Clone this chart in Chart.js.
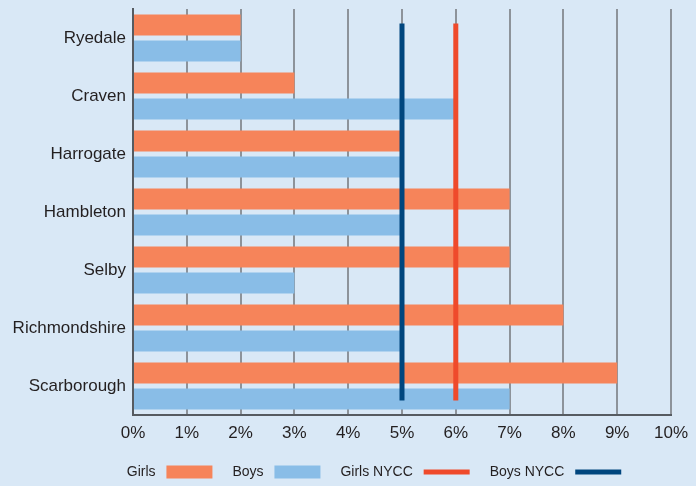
<!DOCTYPE html>
<html lang="en">
<head>
  <meta charset="UTF-8">
  <title>Girls and Boys by District</title>
  <script src="https://cdn.jsdelivr.net/npm/chart.js"></script>
  <style>
    body {
      margin: 0;
      padding: 0;
      background-color: #d9e8f6;
    }

    #wrap {
      width: 696px;
      height: 486px;
    }
  </style>
</head>
<body>
  <div id="wrap"><canvas id="districtChart"></canvas></div>

  <script>
    const districts = ["Ryedale", "Craven", "Harrogate", "Hambleton", "Selby", "Richmondshire", "Scarborough"];
    const girls = [2, 3, 5, 7, 7, 8, 9];
    const boys = [2, 6, 5, 5, 3, 5, 7];
    const girlsNycc = 6;
    const boysNycc = 5;
    const tickLabels = ["0%", "1%", "2%", "3%", "4%", "5%", "6%", "7%", "8%", "9%", "10%"];

    const orange = "#f6845a";
    const lightBlue = "#89bde7";
    const red = "#ef4a2b";
    const navy = "#00467e";
    const textColor = "#231f20";
    const fontFamily = "'Liberation Sans', Arial, sans-serif";

    // the NYCC lines run from just above the first bar to just below the last one
    const lineTop = -0.25;
    const lineBottom = districts.length - 0.75;

    // bars and lines share one linear y axis (district index), so Chart.js
    // does not split the bar slots between two index axes
    function districtBar(label, values, color) {
      return {
        label: label,
        data: values.map((v, i) => ({ x: v, y: i })),
        backgroundColor: color,
        categoryPercentage: 0.9,
        barPercentage: 0.8,
        order: 1
      };
    }

    function nyccLine(label, value, color) {
      return {
        type: "line",
        label: label,
        data: [{ x: value, y: lineTop }, { x: value, y: lineBottom }],
        indexAxis: "y",
        borderColor: color,
        backgroundColor: color,
        borderWidth: 5,
        borderCapStyle: "butt",
        pointRadius: 0,
        fill: false,
        order: 0
      };
    }

    // nudge the legend row so it sits under the plot like the original
    const legendNudge = {
      id: "legendNudge",
      afterLayout(chart) {
        const lg = chart.legend;
        lg.left += 38;
        lg.right += 38;
        lg.top += 3;
        lg.bottom += 3;
      }
    };

    new Chart(document.getElementById("districtChart").getContext("2d"), {
      type: "bar",
      data: {
        datasets: [
          districtBar("Girls", girls, orange),
          districtBar("Boys", boys, lightBlue),
          nyccLine("Girls NYCC", girlsNycc, red),
          nyccLine("Boys NYCC", boysNycc, navy)
        ]
      },
      options: {
        indexAxis: "y",
        responsive: true,
        maintainAspectRatio: false,
        animation: false,
        layout: { padding: { top: 9, right: 24, left: 0, bottom: 0 } },
        scales: {
          x: {
            type: "linear",
            min: 0,
            max: 10,
            ticks: {
              stepSize: 1,
              padding: 8,
              color: textColor,
              font: { family: fontFamily, size: 17 },
              callback: (v) => tickLabels[v]
            },
            grid: { color: "#8d939a", lineWidth: 2, drawTicks: false },
            border: { color: "#565b61", width: 2 },
            afterFit: (scale) => { scale.height = 27; }
          },
          y: {
            type: "linear",
            offset: false,
            reverse: true,
            min: -0.5,
            max: districts.length - 0.5,
            afterBuildTicks: (scale) => {
              scale.ticks = districts.map((_, i) => ({ value: i }));
            },
            ticks: {
              padding: 7,
              color: textColor,
              font: { family: fontFamily, size: 17 },
              callback: (v) => districts[v]
            },
            grid: { display: false, drawTicks: false },
            border: { color: "#565b61", width: 2 },
            afterFit: (scale) => {
              scale.width = 133;
              scale.paddingTop = 0;
              scale.paddingBottom = 0;
            }
          }
        },
        plugins: {
          tooltip: { enabled: false },
          legend: {
            position: "bottom",
            rtl: true,
            textDirection: "ltr",
            labels: {
              usePointStyle: true,
              pointStyleWidth: 46,
              boxHeight: 13,
              padding: 20,
              color: textColor,
              font: { family: fontFamily, size: 14 },
              generateLabels: (chart) => {
                const items = chart.data.datasets.map((ds, i) => ({
                  text: ds.label + " ",
                  datasetIndex: i,
                  hidden: false,
                  fillStyle: ds.backgroundColor,
                  strokeStyle: ds.type === "line" ? ds.borderColor : ds.backgroundColor,
                  lineWidth: ds.type === "line" ? 5 : 0,
                  lineCap: "butt",
                  pointStyle: ds.type === "line" ? "line" : "rect",
                  fontColor: textColor
                }));
                // rtl flips the row, so hand the items over back to front
                return items.reverse();
              }
            }
          }
        }
      },
      plugins: [legendNudge]
    });
  </script>
</body>
</html>
